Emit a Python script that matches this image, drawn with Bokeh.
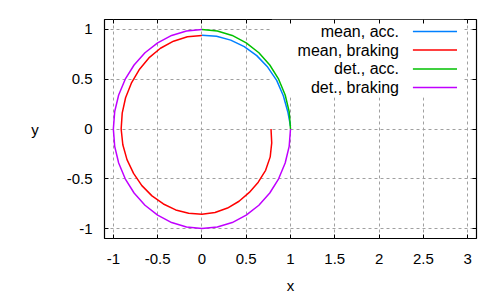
from bokeh.plotting import figure
from bokeh.models import LinearAxis, FixedTicker, Range1d, CustomJSTickFormatter
from bokeh.embed import file_html
from bokeh.resources import INLINE
from bokeh.core.properties import value

# ---------------- data ----------------
mean_acc_x = [1.0, 0.970, 0.919, 0.844, 0.742, 0.619, 0.478, 0.325, 0.165, 0.0]
mean_acc_y = [0.03, 0.171, 0.334, 0.488, 0.622, 0.737, 0.827, 0.893, 0.932, 0.942]

mean_brk_x = [0.0, -0.164, -0.321, -0.468, -0.599, -0.709, -0.797, -0.862, -0.900, -0.912,
              -0.893, -0.846, -0.772, -0.678, -0.564, -0.435, -0.296, -0.150, 0.0,
              0.148, 0.289, 0.419, 0.535, 0.636, 0.719, 0.771, 0.788, 0.78]
mean_brk_y = [0.94, 0.926, 0.882, 0.811, 0.714, 0.595, 0.46, 0.314, 0.159, 0.0,
              -0.158, -0.308, -0.446, -0.569, -0.672, -0.753, -0.813, -0.847, -0.857,
              -0.839, -0.794, -0.726, -0.637, -0.534, -0.415, -0.280, -0.139, 0.0]

det_acc_x = [1.0, 0.985, 0.940, 0.866, 0.766, 0.643, 0.5, 0.342, 0.174, 0.0]
det_acc_y = [0.0, 0.174, 0.342, 0.5, 0.643, 0.766, 0.866, 0.940, 0.985, 1.0]

det_brk_x = [0.0, -0.174, -0.342, -0.5, -0.643, -0.766, -0.866, -0.940, -0.985, -1.0,
             -0.985, -0.940, -0.866, -0.766, -0.643, -0.5, -0.342, -0.174, 0.0,
             0.174, 0.342, 0.5, 0.643, 0.766, 0.866, 0.940, 0.985, 1.0]
det_brk_y = [1.0, 0.985, 0.940, 0.866, 0.766, 0.643, 0.5, 0.342, 0.174, 0.0,
             -0.174, -0.342, -0.5, -0.643, -0.766, -0.866, -0.940, -0.985, -1.0,
             -0.985, -0.940, -0.866, -0.766, -0.643, -0.5, -0.342, -0.174, 0.0]

series_labels = ["mean, acc.", "mean, braking", "det., acc.", "det., braking"]
series_colors = ["#0080ff", "#ff0000", "#00c000", "#c000ff"]

x_ticks = [-1, -0.5, 0, 0.5, 1, 1.5, 2, 2.5, 3]
x_tick_labels = ["-1", "-0.5", "0", "0.5", "1", "1.5", "2", "2.5", "3"]
y_ticks = [-1, -0.5, 0, 0.5, 1]
y_tick_labels = ["-1", "-0.5", "0", "0.5", "1"]

# ---------------- figure ----------------
FONT = "Liberation Sans"
FS = "15px"
KEY_FS = "16px"

p = figure(width=492, height=296, output_backend="svg", toolbar_location=None,
           x_range=Range1d(-1.1, 3.1), y_range=Range1d(-1.1, 1.1),
           min_border_left=104, min_border_right=16, min_border_top=19, min_border_bottom=57,
           x_axis_label="x", y_axis_label="y")
p.outline_line_color = "black"
p.outline_line_width = 1.2
p.background_fill_color = "white"
p.border_fill_color = "white"

for ax, ticks, labels in ((p.xaxis[0], x_ticks, x_tick_labels), (p.yaxis[0], y_ticks, y_tick_labels)):
    ax.ticker = FixedTicker(ticks=ticks)
    ax.major_label_overrides = {float(t): l for t, l in zip(ticks, labels)}
    ax.axis_line_color = None
    ax.major_tick_in = 4
    ax.major_tick_out = 0
    ax.major_tick_line_color = "black"
    ax.minor_tick_line_color = None
    ax.major_label_text_font = FONT
    ax.major_label_text_font_size = FS
    ax.major_label_text_color = "#000000"
    ax.axis_label_text_font = FONT
    ax.axis_label_text_font_size = FS
    ax.axis_label_text_font_style = "normal"
    ax.axis_label_text_color = "#000000"

p.xaxis[0].major_label_standoff = 15
p.xaxis[0].axis_label_standoff = 10
p.yaxis[0].major_label_standoff = 12
p.yaxis[0].axis_label_standoff = 25
p.yaxis[0].axis_label_orientation = "horizontal"

# mirrored ticks on top and right
blank = CustomJSTickFormatter(code="return ''")
top = LinearAxis(ticker=FixedTicker(ticks=x_ticks), formatter=blank)
right = LinearAxis(ticker=FixedTicker(ticks=y_ticks), formatter=blank)
for ax in (top, right):
    ax.axis_line_color = None
    ax.major_tick_in = 4
    ax.major_tick_out = 0
    ax.major_tick_line_color = "black"
    ax.minor_tick_line_color = None
    ax.major_label_standoff = 0
    ax.major_label_text_font_size = "1px"
p.add_layout(top, "above")
p.add_layout(right, "right")

for g in (p.xgrid[0], p.ygrid[0]):
    g.grid_line_color = "#a0a0a0"
    g.grid_line_dash = "3 3"
    g.grid_line_width = 1

# opaque key area (layout constants in data units)
p.quad(left=0.79, right=2.96, bottom=0.32, top=1.1, fill_color="white", line_color=None)

# curves
series = [(mean_acc_x, mean_acc_y), (mean_brk_x, mean_brk_y),
          (det_acc_x, det_acc_y), (det_brk_x, det_brk_y)]
for (xs, ys), c in zip(series, series_colors):
    p.line(xs, ys, line_color=c, line_width=1.5)

# key (text on the left, sample on the right, as in gnuplot)
key_text_x = 2.225
key_line_x0, key_line_x1 = 2.382, 2.88
key_rows_y = [0.98, 0.793, 0.603, 0.417]
p.text(x=[key_text_x] * 4, y=key_rows_y, text=series_labels,
       text_font=value(FONT), text_font_size=KEY_FS, text_align="right",
       text_baseline="middle", text_color="#000000")
p.segment(x0=[key_line_x0] * 4, y0=key_rows_y, x1=[key_line_x1] * 4, y1=key_rows_y,
          line_color=series_colors, line_width=1.5)

open("out.html", "w").write(file_html(p, INLINE))
